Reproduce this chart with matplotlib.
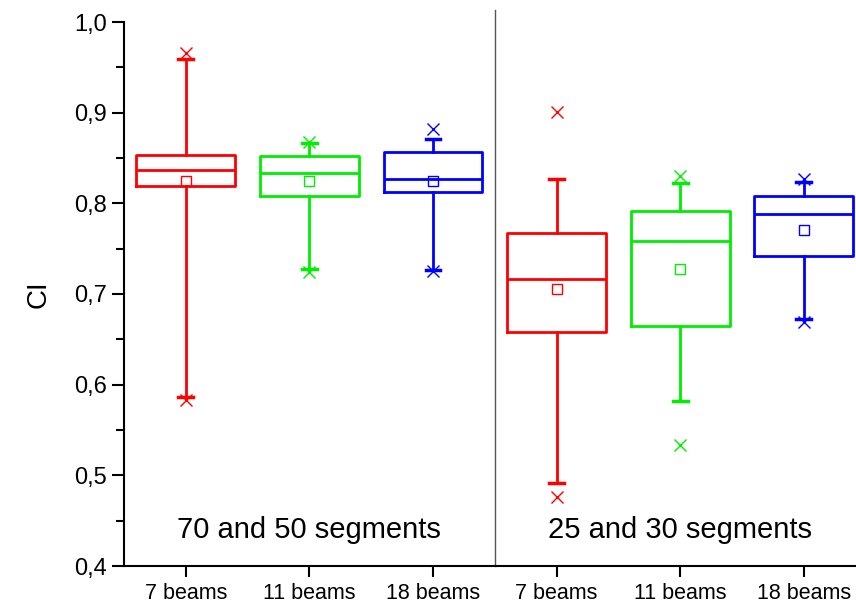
import matplotlib.pyplot as plt
from matplotlib.ticker import MultipleLocator, FuncFormatter

# box statistics (CI values)
labels = ['7 beams', '11 beams', '18 beams', '7 beams', '11 beams', '18 beams']
colors = ['#ff0000', '#00ee00', '#0000ff', '#ff0000', '#00ee00', '#0000ff']
q1 = [0.819, 0.808, 0.813, 0.658, 0.665, 0.742]
med = [0.837, 0.833, 0.827, 0.716, 0.758, 0.788]
q3 = [0.853, 0.852, 0.857, 0.767, 0.791, 0.808]
mean = [0.825, 0.825, 0.825, 0.705, 0.728, 0.771]
whislo = [0.586, 0.728, 0.727, 0.491, 0.582, 0.672]
whishi = [0.959, 0.866, 0.871, 0.827, 0.822, 0.823]
fmin = [0.583, 0.724, 0.725, 0.476, 0.534, 0.669]
fmax = [0.966, 0.868, 0.882, 0.901, 0.830, 0.827]
group_labels = ['70 and 50 segments', '25 and 30 segments']

plt.rcParams['font.family'] = ['Liberation Sans', 'DejaVu Sans']

fig = plt.figure(figsize=(8.56, 6.06), dpi=100)
ax = fig.add_axes([124 / 856, 40 / 606, 741.6 / 856, 544 / 606])

for i in range(6):
    st = dict(q1=q1[i], med=med[i], q3=q3[i], mean=mean[i],
              whislo=whislo[i], whishi=whishi[i], fliers=[fmin[i], fmax[i]])
    c = colors[i]
    ax.bxp([st], positions=[i + 1], widths=0.8, capwidths=0.12,
           showmeans=True, meanline=False,
           boxprops=dict(color=c, linewidth=2),
           medianprops=dict(color=c, linewidth=2),
           whiskerprops=dict(color=c, linewidth=2),
           capprops=dict(color=c, linewidth=2.5),
           meanprops=dict(marker='s', markersize=7.5, markerfacecolor='none',
                          markeredgecolor=c, markeredgewidth=1),
           flierprops=dict(marker='x', markersize=9, markeredgecolor=c,
                           markeredgewidth=1))

ax.set_xlim(0.5, 6.5)
ax.set_ylim(0.4, 1.0)
ax.set_xticks(range(1, 7))
ax.set_xticklabels(labels, fontsize=15.5)
ax.yaxis.set_major_locator(MultipleLocator(0.1))
ax.yaxis.set_minor_locator(MultipleLocator(0.05))
ax.yaxis.set_major_formatter(FuncFormatter(lambda v, p: f'{v:.1f}'.replace('.', ',')))
ax.tick_params(axis='y', which='major', labelsize=17, length=9, width=1.5)
ax.tick_params(axis='y', which='minor', length=5.5, width=1.5)
ax.tick_params(axis='x', length=8, width=1.5, pad=4)
ax.set_ylabel('CI', fontsize=20, labelpad=16)

for s in ['top', 'right']:
    ax.spines[s].set_visible(False)
for s in ['left', 'bottom']:
    ax.spines[s].set_linewidth(1.5)

ax.plot([3.5, 3.5], [0.4, 1.013], color='#555555', linewidth=1, clip_on=False)

ax.text(2, 0.44, group_labels[0], fontsize=21, ha='center', va='center')
ax.text(5, 0.44, group_labels[1], fontsize=21, ha='center', va='center')

fig.savefig('out.png', dpi=100, facecolor='white')
